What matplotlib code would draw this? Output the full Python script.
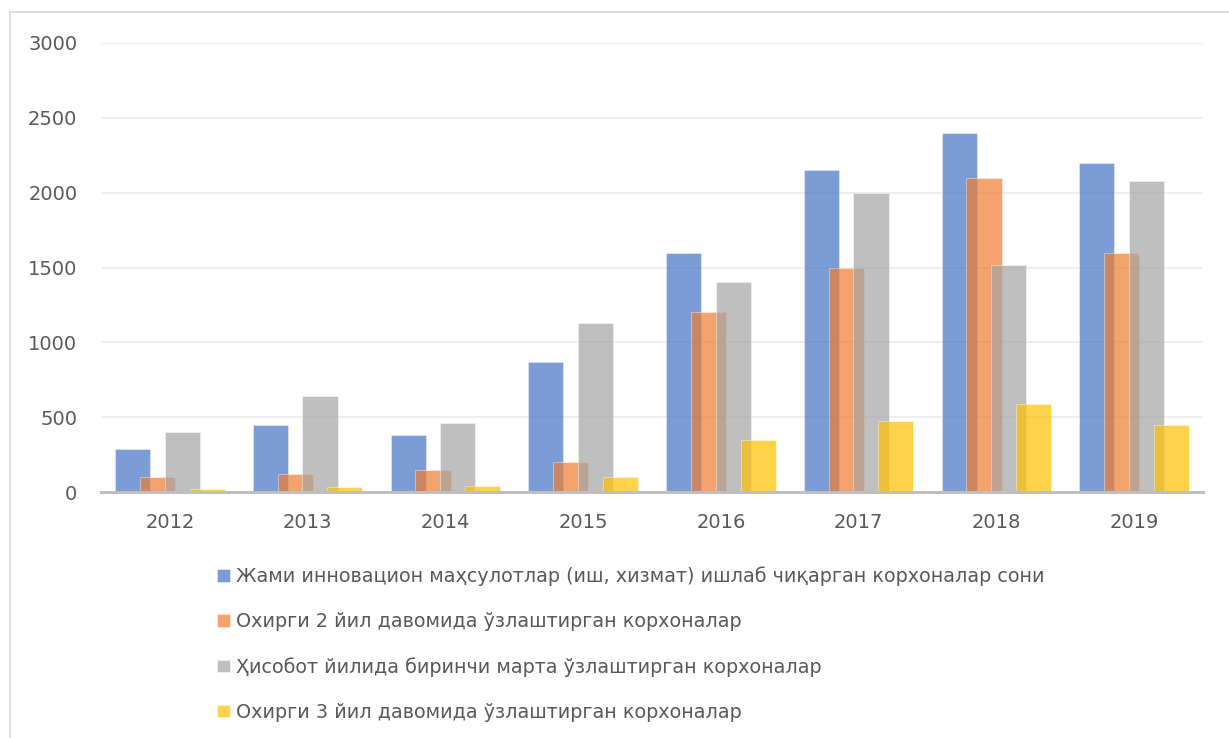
import matplotlib.pyplot as plt
import numpy as np
from matplotlib.patches import Rectangle

plt.rcParams['font.family'] = ['DejaVu Sans']

years = ['2012', '2013', '2014', '2015', '2016', '2017', '2018', '2019']
total = [290, 450, 380, 870, 1600, 2150, 2400, 2200]
last2 = [100, 120, 150, 200, 1200, 1500, 2100, 1600]
first_time = [400, 640, 460, 1130, 1400, 2000, 1520, 2080]
last3 = [20, 35, 40, 100, 350, 475, 590, 445]

labels = [
    'Жами инновацион маҳсулотлар (иш, хизмат) ишлаб чиқарган корхоналар сони',
    'Охирги 2 йил давомида ўзлаштирган корхоналар',
    'Ҳисобот йилида биринчи марта ўзлаштирган корхоналар',
    'Охирги 3 йил давомида ўзлаштирган корхоналар',
]
colors = ['#4472C4', '#ED7D31', '#A5A5A5', '#FFC000']

fig = plt.figure(figsize=(12.29, 7.38), dpi=100)
ax = fig.add_axes([101 / 1229, 1 - 492 / 738, 1102 / 1229, 449 / 738])

# light frame around the chart
fig.patches.append(Rectangle((10 / 1229, -0.1), 1.2, 1 - 12 / 738 + 0.1,
                             transform=fig.transFigure, fill=False,
                             edgecolor='#D9D9D9', linewidth=1.2))

x = np.arange(len(years))
w = 0.255
step = 0.18
series = [total, last2, first_time, last3]
for i, (vals, c, lab) in enumerate(zip(series, colors, labels)):
    off = (i - 1.5) * step
    ax.bar(x + off, vals, width=w, color=c, alpha=0.7, label=lab,
           edgecolor='#FFFFFF', linewidth=0.4, zorder=3)

ax.set_xlim(-0.5, len(years) - 0.5)
ax.set_ylim(0, 3000)
ax.set_yticks(np.arange(0, 3001, 500))
ax.set_xticks(x)
ax.set_xticklabels(years)
ax.yaxis.grid(True, color='#EBEBEB', linewidth=1.2, zorder=0)
ax.set_axisbelow(True)
for s in ['top', 'right', 'left']:
    ax.spines[s].set_visible(False)
ax.spines['bottom'].set_color('#BFBFBF')
ax.spines['bottom'].set_linewidth(2.2)
ax.spines['bottom'].set_zorder(4)
ax.tick_params(axis='both', length=0, labelsize=14, colors='#595959')
ax.tick_params(axis='x', pad=15)
ax.tick_params(axis='y', pad=17)

leg = fig.legend(loc='upper left', bbox_to_anchor=(200 / 1229, 1 - 549 / 738),
                 frameon=False, fontsize=13.8, labelspacing=1.36,
                 handlelength=0.65, handleheight=0.65, handletextpad=0.35)
for t in leg.get_texts():
    t.set_color('#595959')

fig.savefig('out.png', dpi=100)
